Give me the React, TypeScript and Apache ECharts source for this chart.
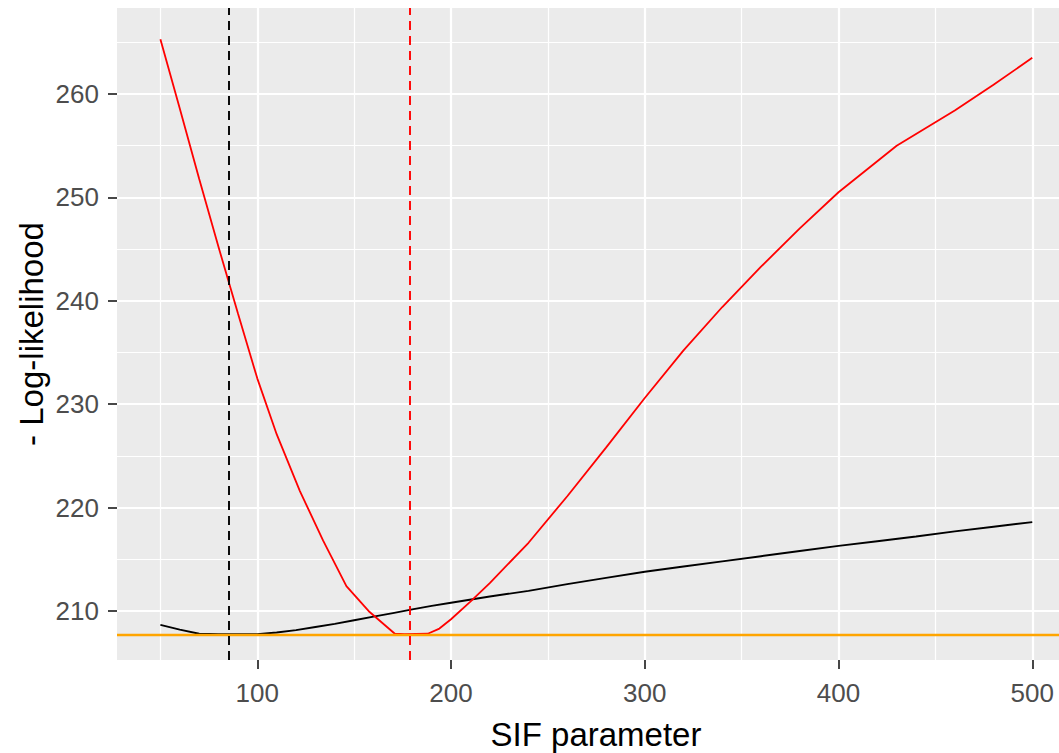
import React, { useEffect, useRef } from "react";
import * as echarts from "echarts";

// SIF parameter grid and negative log-likelihood values
const sifRed = [50, 60, 70, 80, 90, 100, 110, 122, 134, 146, 158, 171, 176, 188, 194, 200, 210, 220, 240, 260, 280, 300, 320, 340, 360, 380, 400, 430, 460, 480, 500];
const nllRed = [265.3, 258.6, 251.8, 245.2, 238.8, 232.5, 227.1, 221.6, 216.8, 212.4, 209.9, 207.8, 207.75, 207.8, 208.3, 209.2, 210.9, 212.7, 216.6, 221.1, 225.8, 230.6, 235.2, 239.4, 243.3, 247.0, 250.5, 255.0, 258.4, 260.9, 263.5];

const sifBlack = [50, 60, 70, 80, 85, 90, 100, 110, 120, 130, 140, 150, 160, 170, 180, 190, 200, 220, 240, 260, 280, 300, 320, 340, 360, 380, 400, 420, 440, 460, 480, 500];
const nllBlack = [208.65, 208.2, 207.8, 207.75, 207.75, 207.75, 207.76, 207.92, 208.15, 208.45, 208.75, 209.1, 209.45, 209.8, 210.15, 210.5, 210.8, 211.4, 211.95, 212.6, 213.2, 213.8, 214.3, 214.8, 215.3, 215.8, 216.3, 216.75, 217.2, 217.7, 218.15, 218.6];

const minNll = [207.75];
const argminBlack = [85.4];
const argminRed = [178.8];

const xMajorTicks = [100, 200, 300, 400, 500];
const xMinorTicks = [50, 150, 250, 350, 450];
const yMajorTicks = [210, 220, 230, 240, 250, 260];
const yMinorTicks = [215, 225, 235, 245, 255, 265];

const X_MIN = 27.6;
const X_MAX = 513.8;
const Y_MIN = 205.26;
const Y_MAX = 268.32;

const FONT = "'Liberation Sans', Arial, sans-serif";

export default function App() {
  const ref = useRef<HTMLDivElement>(null);

  useEffect(() => {
    if (!ref.current) return;
    const chart = echarts.init(ref.current, undefined, { renderer: "svg" });

    const baseX = {
      type: "value",
      min: X_MIN,
      max: X_MAX,
      axisLine: { show: false },
    };
    const baseY = {
      type: "value",
      min: Y_MIN,
      max: Y_MAX,
      axisLine: { show: false },
    };

    const option: any = {
      animation: false,
      backgroundColor: "#FFFFFF",
      grid: {
        left: 117,
        top: 8,
        right: 0,
        bottom: 93,
        show: true,
        backgroundColor: "#EBEBEB",
        borderWidth: 0,
      },
      xAxis: [
        {
          ...baseX,
          position: "bottom",
          axisTick: {
            show: true,
            customValues: xMajorTicks,
            length: 9,
            lineStyle: { color: "#333333", width: 1.8 },
          },
          axisLabel: {
            show: true,
            customValues: xMajorTicks,
            margin: 20,
            color: "#4D4D4D",
            fontSize: 26,
            fontFamily: FONT,
          },
          splitLine: { show: true, lineStyle: { color: "#FFFFFF", width: 2.2 } },
          z: 1,
        },
        {
          ...baseX,
          position: "bottom",
          axisTick: { show: false, customValues: xMinorTicks },
          axisLabel: { show: false, customValues: xMinorTicks },
          splitLine: { show: true, lineStyle: { color: "#FFFFFF", width: 1.2 } },
          z: 0,
        },
      ],
      yAxis: [
        {
          ...baseY,
          position: "left",
          axisTick: {
            show: true,
            customValues: yMajorTicks,
            length: 9,
            lineStyle: { color: "#333333", width: 1.8 },
          },
          axisLabel: {
            show: true,
            customValues: yMajorTicks,
            margin: 18,
            color: "#4D4D4D",
            fontSize: 26,
            fontFamily: FONT,
          },
          splitLine: { show: true, lineStyle: { color: "#FFFFFF", width: 2.2 } },
          z: 1,
        },
        {
          ...baseY,
          position: "left",
          axisTick: { show: false, customValues: yMinorTicks },
          axisLabel: { show: false, customValues: yMinorTicks },
          splitLine: { show: true, lineStyle: { color: "#FFFFFF", width: 1.2 } },
          z: 0,
        },
      ],
      series: [
        {
          type: "line",
          name: "black",
          xAxisIndex: 0,
          yAxisIndex: 0,
          data: sifBlack.map((x, i) => [x, nllBlack[i]]),
          showSymbol: false,
          symbol: "none",
          lineStyle: { color: "#000000", width: 1.9 },
          z: 3,
        },
        {
          type: "line",
          name: "red",
          xAxisIndex: 0,
          yAxisIndex: 0,
          data: sifRed.map((x, i) => [x, nllRed[i]]),
          showSymbol: false,
          symbol: "none",
          lineStyle: { color: "#FF0000", width: 1.8 },
          z: 3,
        },
        {
          type: "line",
          name: "min",
          xAxisIndex: 0,
          yAxisIndex: 0,
          data: [],
          z: 4,
          markLine: {
            silent: true,
            symbol: "none",
            label: { show: false },
            lineStyle: { color: "#FFA500", width: 2.4, type: "solid" },
            data: minNll.map((v) => ({ yAxis: v })),
          },
        },
        {
          type: "line",
          name: "argminBlack",
          xAxisIndex: 0,
          yAxisIndex: 0,
          data: [],
          z: 5,
          markLine: {
            silent: true,
            symbol: "none",
            label: { show: false },
            lineStyle: { color: "#000000", width: 1.9, type: [9, 6] },
            data: argminBlack.map((v) => ({ xAxis: v })),
          },
        },
        {
          type: "line",
          name: "argminRed",
          xAxisIndex: 0,
          yAxisIndex: 0,
          data: [],
          z: 5,
          markLine: {
            silent: true,
            symbol: "none",
            label: { show: false },
            lineStyle: { color: "#FF0000", width: 1.9, type: [9, 6] },
            data: argminRed.map((v) => ({ xAxis: v })),
          },
        },
      ],
      graphic: [
        {
          type: "text",
          x: 596,
          y: 734,
          style: {
            text: "SIF parameter",
            fill: "#000000",
            fontSize: 33,
            fontFamily: FONT,
            align: "center",
            verticalAlign: "middle",
          },
        },
        {
          type: "text",
          x: 31,
          y: 334,
          rotation: Math.PI / 2,
          style: {
            text: "- Log-likelihood",
            fill: "#000000",
            fontSize: 33,
            fontFamily: FONT,
            align: "center",
            verticalAlign: "middle",
          },
        },
      ],
    };

    chart.setOption(option);
    return () => chart.dispose();
  }, []);

  return (
    <div
      ref={ref}
      style={{ position: "fixed", left: 0, top: 0, width: 1059, height: 753 }}
    />
  );
}
